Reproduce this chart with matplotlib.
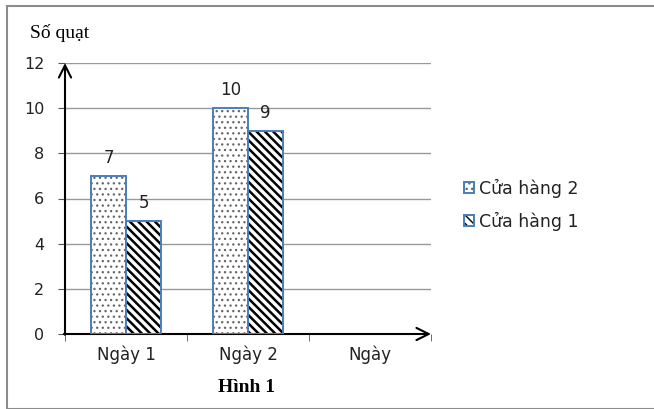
import matplotlib
matplotlib.use("Agg")
import matplotlib.pyplot as plt
from matplotlib.patches import Rectangle
import numpy as np

# Data.
days = ["Ngày 1", "Ngày 2"]
tick_labels = ["Ngày 1", "Ngày 2", "Ngày"]
store2 = [7, 10]
store1 = [5, 9]
y_ticks = [0, 2, 4, 6, 8, 10, 12]

fig = plt.figure(figsize=(6.54, 4.09), dpi=100)
ax = fig.add_axes([65 / 654, 1 - 334 / 409, 366 / 654, 271 / 409])

# Grey frame around the whole picture.
fig.patches.append(Rectangle((7 / 654, 0.5 / 409), 660 / 654, 403 / 409,
                             transform=fig.transFigure, fill=False,
                             edgecolor="#8c8c8c", linewidth=1.5))

x = np.arange(len(days))
w = 0.287
edge = "#4a7ebb"

# Hatch colour follows edgecolor, so the fill and the blue outline are two layers.
with plt.rc_context({"hatch.linewidth": 0.9}):
    h2 = ax.bar(x - w / 2, store2, w, facecolor="white", edgecolor="#666666",
                linewidth=0, hatch="...", zorder=3)
with plt.rc_context({"hatch.linewidth": 1.8}):
    h1 = ax.bar(x + w / 2, store1, w, facecolor="white", edgecolor="black",
                linewidth=0, hatch="\\\\\\\\", zorder=3)
o2 = ax.bar(x - w / 2, store2, w, fill=False, edgecolor=edge, linewidth=1.4, zorder=4)
o1 = ax.bar(x + w / 2, store1, w, fill=False, edgecolor=edge, linewidth=1.4, zorder=4)

for bars, vals in ((o2, store2), (o1, store1)):
    for p, v in zip(bars, vals):
        ax.annotate(str(v), (p.get_x() + p.get_width() / 2, v),
                    xytext=(0, 13), textcoords="offset points",
                    ha="center", va="center", fontsize=12, color="#222222")

ax.set_xlim(-0.5, 2.5)
ax.set_ylim(0, 12)
ax.set_yticks(y_ticks)
ax.yaxis.grid(True, color="#999999", linewidth=1)
ax.set_axisbelow(True)
ax.set_xticks(range(len(tick_labels)))
ax.set_xticklabels(tick_labels, fontsize=12, color="#222222")
ax.set_xticks([-0.5, 0.5, 1.5, 2.5], minor=True)
ax.tick_params(axis="x", which="major", length=0, pad=8)
ax.tick_params(axis="x", which="minor", length=5, color="#555555")
ax.tick_params(axis="y", length=5, color="#555555", labelsize=11.5, pad=10,
                labelcolor="#222222")
for s in ax.spines.values():
    s.set_visible(False)

# Axis arrows.
ax.annotate("", xy=(0, 1.0), xytext=(0, -0.003), xycoords="axes fraction",
            arrowprops=dict(arrowstyle="->", color="black", lw=1.5,
                            mutation_scale=22, shrinkA=0, shrinkB=0))
ax.annotate("", xy=(1.0, 0), xytext=(-0.003, 0), xycoords="axes fraction",
            arrowprops=dict(arrowstyle="->", color="black", lw=1.5,
                            mutation_scale=22, shrinkA=0, shrinkB=0))

fig.text(30 / 654, 1 - 33 / 409, "Số quạt", family="Liberation Serif",
         fontsize=14, va="center")
fig.text(247 / 654, 1 - 387 / 409, "Hình 1", family="Liberation Serif",
         fontsize=14, fontweight="bold", ha="center", va="center")

ax.legend(handles=[(h2[0], o2[0]), (h1[0], o1[0])],
          labels=["Cửa hàng 2", "Cửa hàng 1"],
          loc="center left", bbox_to_anchor=(448 / 654, 1 - 205 / 409),
          bbox_transform=fig.transFigure, frameon=False, fontsize=12.5,
          handlelength=0.6, handleheight=0.6, handletextpad=0.3,
          labelspacing=0.8, labelcolor="#222222")

fig.savefig("out.png", dpi=100)
